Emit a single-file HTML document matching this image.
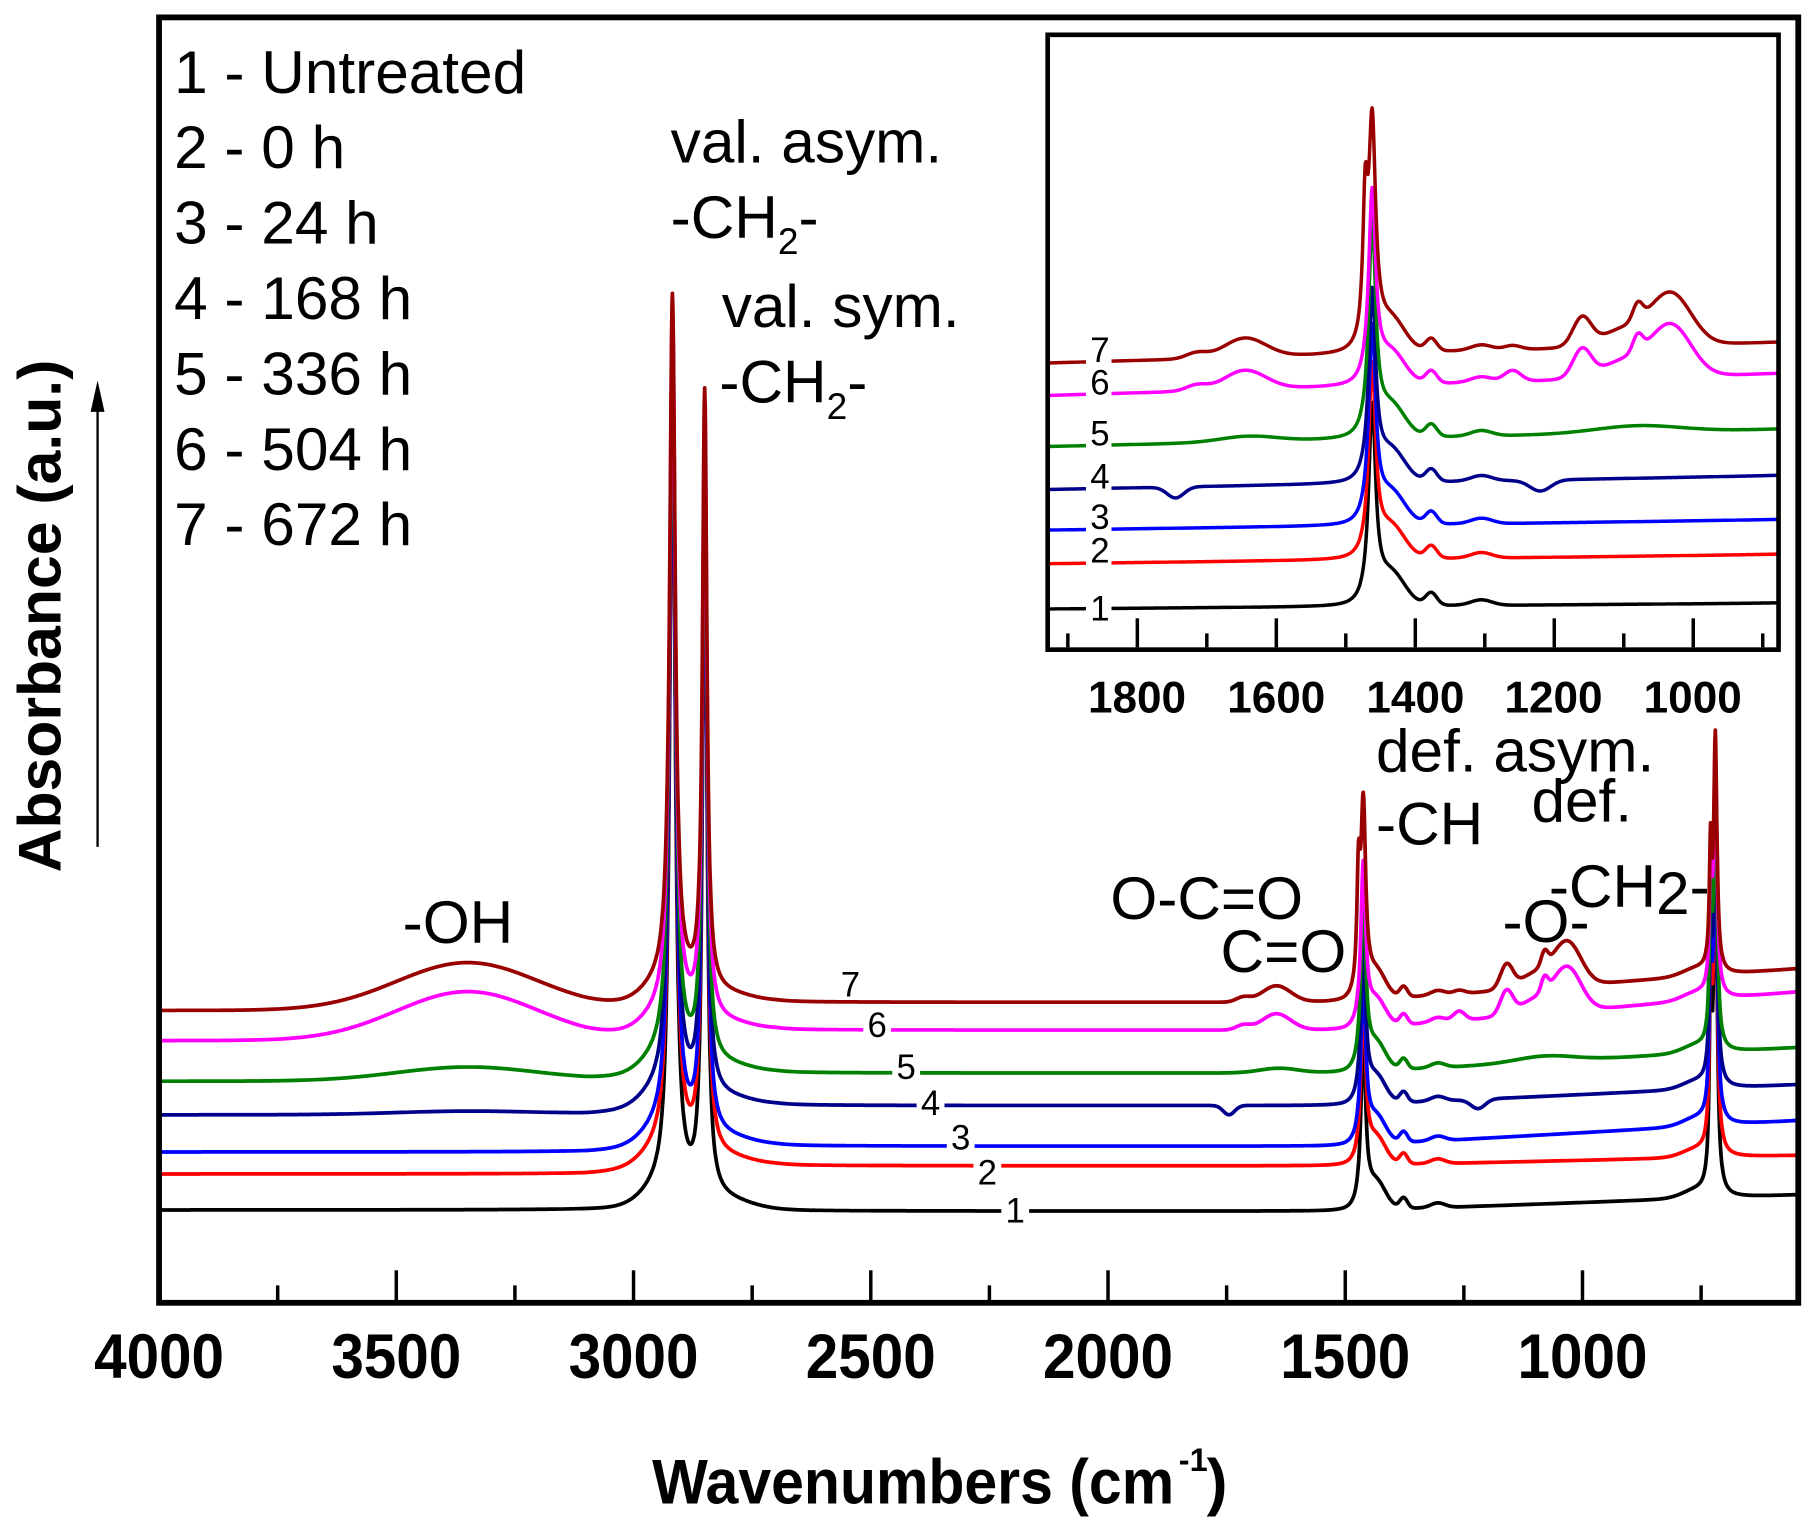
<!DOCTYPE html>
<html><head><meta charset="utf-8"><style>html,body{margin:0;padding:0;background:#fff}svg{display:block}</style></head>
<body>
<svg id="s" width="1810" height="1529" viewBox="0 0 1560 1318" xmlns="http://www.w3.org/2000/svg" font-family="Liberation Sans, sans-serif">
<rect width="1560" height="1318" fill="#fff"/>
<g id="main"></g>
<g id="ticks" stroke="#000" stroke-width="3"></g>
<rect x="137" y="15" width="1413" height="1108" fill="none" stroke="#000" stroke-width="5"/>
<g font-weight="bold" font-size="54" text-anchor="middle">
<text x="137" y="1188" textLength="112" lengthAdjust="spacingAndGlyphs">4000</text>
<text x="341.5" y="1188" textLength="112" lengthAdjust="spacingAndGlyphs">3500</text>
<text x="546" y="1188" textLength="112" lengthAdjust="spacingAndGlyphs">3000</text>
<text x="750.5" y="1188" textLength="112" lengthAdjust="spacingAndGlyphs">2500</text>
<text x="955" y="1188" textLength="112" lengthAdjust="spacingAndGlyphs">2000</text>
<text x="1159.5" y="1188" textLength="112" lengthAdjust="spacingAndGlyphs">1500</text>
<text x="1364" y="1188" textLength="112" lengthAdjust="spacingAndGlyphs">1000</text>
</g>
<text x="562" y="1296" font-weight="bold" font-size="54" textLength="450" lengthAdjust="spacingAndGlyphs">Wavenumbers (cm</text>
<text x="1016" y="1268" font-weight="bold" font-size="28">-1</text>
<text x="1040" y="1296" font-weight="bold" font-size="54">)</text>
<text transform="translate(52,531) rotate(-90)" text-anchor="middle" font-weight="bold" font-size="52" textLength="442" lengthAdjust="spacingAndGlyphs">Absorbance (a.u.)</text>
<line x1="84" y1="730" x2="84" y2="345" stroke="#000" stroke-width="2"/>
<polygon points="84,328 78,355 90,355" fill="#000"/>
<g font-size="52">
<text x="150" y="80">1 - Untreated</text>
<text x="150" y="145">2 - 0 h</text>
<text x="150" y="210">3 - 24 h</text>
<text x="150" y="275">4 - 168 h</text>
<text x="150" y="340">5 - 336 h</text>
<text x="150" y="405">6 - 504 h</text>
<text x="150" y="470">7 - 672 h</text>
<text x="578" y="140">val. asym.</text>
<text x="578" y="205">-CH<tspan font-size="32" dy="14">2</tspan><tspan dy="-14">-</tspan></text>
<text x="622" y="282">val. sym.</text>
<text x="620" y="347">-CH<tspan font-size="32" dy="14">2</tspan><tspan dy="-14">-</tspan></text>
<text x="347" y="813">-OH</text>
<text x="957" y="792">O-C=O</text>
<text x="1052" y="838">C=O</text>
<text x="1186" y="665">def. asym.</text>
<text x="1186" y="728">-CH</text>
<text x="1320" y="708">def.</text>
<text x="1335" y="782">-CH<tspan dy="6">2</tspan><tspan dy="-6">-</tspan></text>
<text x="1295" y="812">-O-</text>
</g>
<g id="mlabels" font-size="30"></g>
<rect x="903" y="30" width="630" height="530" fill="#fff"/>
<g id="inset"></g>
<g id="iticks" stroke="#000" stroke-width="3"></g>
<rect x="903" y="30" width="630" height="530" fill="none" stroke="#000" stroke-width="4"/>
<g font-weight="bold" font-size="38" text-anchor="middle">
<text x="980" y="614">1800</text><text x="1100" y="614">1600</text><text x="1220" y="614">1400</text><text x="1339" y="614">1200</text><text x="1459" y="614">1000</text>
</g>
<g id="ilabels" font-size="30"></g>
</svg>
<script>
var NS="http://www.w3.org/2000/svg";
function el(p,t,a,txt){var e=document.createElementNS(NS,t);for(var k in a)e.setAttribute(k,a[k]);if(txt!==undefined)e.textContent=txt;document.getElementById(p).appendChild(e);return e;}
var cols=["#000000","#ff0000","#0000ff","#00008b","#008000","#ff00ff","#990000"];
var base=[[1043,1044,1030],[1012,1005,996],[993,988,966],[961,953,935],[932,925,903],[897,888,855],[871,864,835]];
var t2918=[305,295,285,275,260,245,235], t2850=[380,370,360,350,335,320,310];
var h1462=[165,160,163,158,180,160,186];
var t720=[680,670,660,650,640,628,618];
var oh=[0,0,0,3,12,42,41];
function L(w,c,g,h){var d=(w-c)/g;return h/(1+d*d);}
function G(w,c,s,h){var d=(w-c)/s;return h*Math.exp(-0.5*d*d);}
function bl(i,w){var b=base[i];if(w>=3100)return b[0];if(w>=2700)return b[0]+(b[1]-b[0])*(3100-w)/400;if(w>=1500)return b[1];return b[1]+(b[2]-b[1])*(1500-w)/955;}
function f(i,w){var b=base[i];var y=0;
 y+=L(w,2918,7,(b[0]-t2918[i])*0.93);y+=L(w,2850,5.5,(b[1]-t2850[i])*0.93);y+=G(w,2930,45,18);y+=G(w,2820,60,8);
 y+=G(w,3350,150,oh[i]);
 y+=L(w,1462,6,h1462[i]*0.85);if(i==6)y+=L(w,1472,4,h1462[i]*0.5);y+=G(w,1435,20,22);y+=G(w,1377,8,9);y+=G(w,1305,15,4);
 var h7=(bl(i,720)-t720[i]-12)/0.84;
 y+=L(w,720,4,h7*0.8);y+=L(w,730,3,h7*0.4);y+=G(w,760,30,6);
 if(i>=5){y+=G(w,1645,30,14);y+=G(w,1715,15,4);y+=G(w,1160,13,20);y+=G(w,1080,7,12);y+=G(w,1090,40,14);y+=G(w,1030,28,34);y+=G(w,1260,12,i==5?8:3);}
 if(i==4){y+=G(w,1640,40,4);y+=G(w,1080,60,5);}
 if(i==3){y-=G(w,1745,12,8);y-=G(w,1220,15,8);}
 return y;}
function mx(w){return 137+(4000-w)/500*204.5;}
for(var i=0;i<7;i++){var d="";for(var w=4000;w>=545;w-=1){d+=(w==4000?"M":"L")+mx(w).toFixed(1)+","+(bl(i,w)-f(i,w)).toFixed(1);}
 el("main","path",{d:d,fill:"none",stroke:cols[i],"stroke-width":3.2,"stroke-linejoin":"round"});}
var ml=[[875,1048],[851,1015],[828,985],[802,955],[781,924],[756,888],[733,853]];
for(var i=0;i<7;i++){el("mlabels","rect",{x:ml[i][0]-12,y:ml[i][1]-22,width:24,height:30,fill:"#fff"});el("mlabels","text",{x:ml[i][0],y:ml[i][1]+6,"text-anchor":"middle"},String(i+1));}
for(var w=4000;w>=545;w-=250){if(w==4000)continue;var x=mx(w);var big=(w%500==0);el("ticks","line",{x1:x,x2:x,y1:1121,y2:1121-(big?26:13)});}
var ib=[[525,520],[486,478],[457,448],[422,410],[385,370],[341,322],[313,295]];
function ix(w){return 903+(1929-w)/200*119.8;}
for(var i=0;i<7;i++){var d="";for(var w=1929;w>=876;w-=1){var b=ib[i][0]+(ib[i][1]-ib[i][0])*(1929-w)/1053;var y=b-1.18*f(i,w);y=Math.max(y,32);d+=(w==1929?"M":"L")+ix(w).toFixed(1)+","+y.toFixed(1);}
 el("inset","path",{d:d,fill:"none",stroke:cols[i],"stroke-width":3,"stroke-linejoin":"round"});
 el("ilabels","rect",{x:936,y:ib[i][0]-4,width:22,height:8,fill:"#fff"});
 el("ilabels","rect",{x:938,y:ib[i][0]-26,width:20,height:24,fill:"#fff"});
 el("ilabels","text",{x:948,y:ib[i][0]+(i==0?10:-1),"text-anchor":"middle"},String(i+1));}
for(var w=1900;w>=900;w-=100){var x=ix(w);var big=(w%200==0);el("iticks","line",{x1:x,x2:x,y1:558,y2:558-(big?25:12)});}
</script>
</body></html>
